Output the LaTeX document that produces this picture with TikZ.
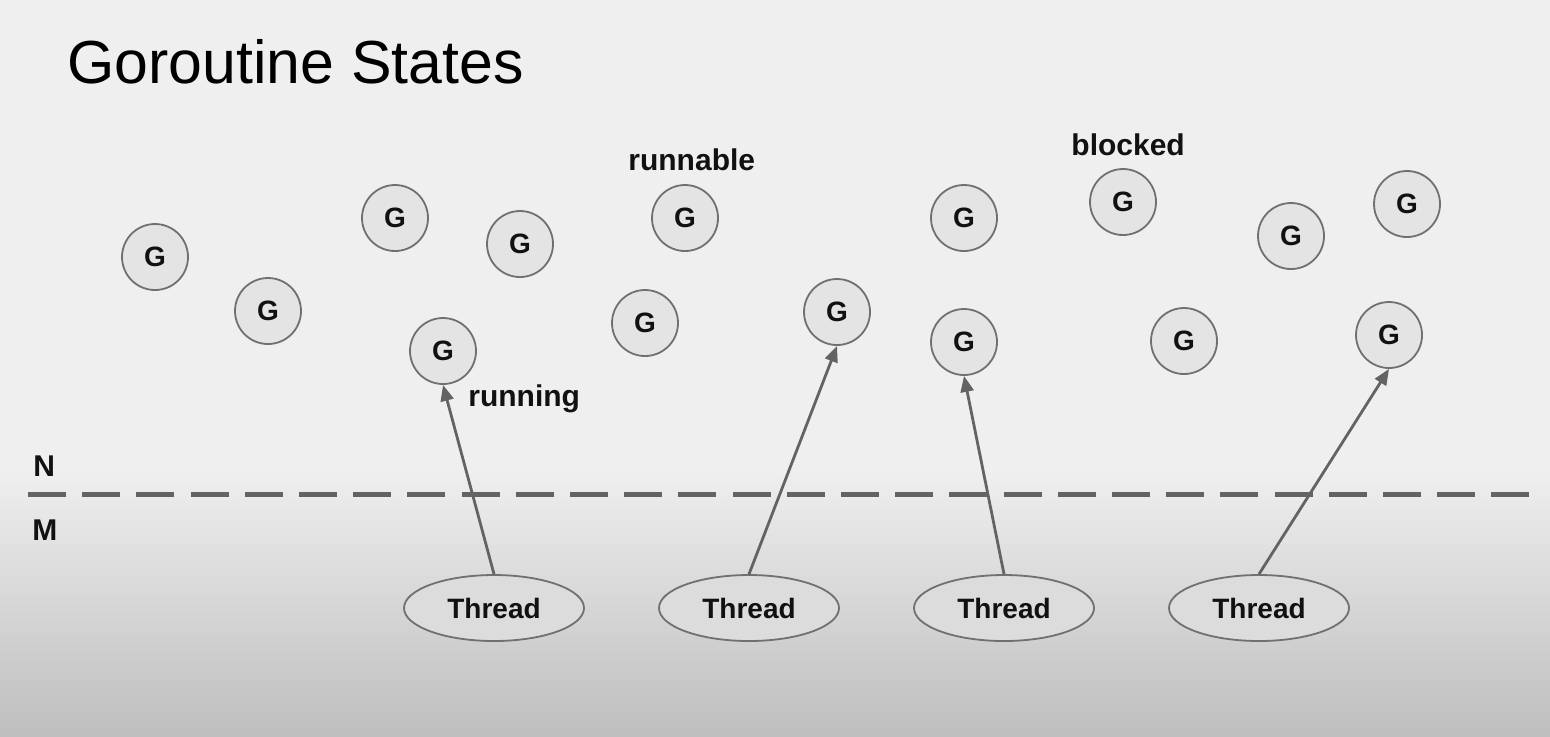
\documentclass[tikz,border=0pt]{standalone}
\usepackage{fontspec}
\setmainfont{Liberation Sans}
\usetikzlibrary{arrows.meta,positioning,shapes.geometric}
\definecolor{slide}{HTML}{EFEFEF}
\definecolor{floor}{HTML}{BEBEBE}
\definecolor{gfill}{HTML}{E4E4E4}
\definecolor{tfill}{HTML}{DCDCDC}
\definecolor{rim}{HTML}{707070}
\definecolor{ink}{HTML}{111111}
\definecolor{wire}{HTML}{636363}
\tikzset{
  gnode/.style={circle,draw=rim,fill=gfill,line width=0.9pt,minimum size=33pt,inner sep=0pt,font=\fontsize{14}{16}\selectfont\bfseries,text=ink},
  thread/.style={ellipse,draw=rim,fill=tfill,line width=0.9pt,minimum width=90pt,minimum height=33pt,inner sep=0pt,font=\fontsize{14}{16}\selectfont\bfseries,text=ink},
  arrow/.style={-{Triangle[length=8pt,width=6.5pt]},line width=1.4pt,color=wire},
  lbl/.style={font=\fontsize{15}{17}\selectfont\bfseries,text=ink,anchor=base west,inner sep=0pt},
  divider/.style={line width=2.5pt,color=wire,dash pattern=on 19pt off 8.1pt},
}
\begin{document}
\begin{tikzpicture}[x=0.5pt,y=-0.5pt]
    \useasboundingbox (0,0) rectangle (1550,736);
    % slide background
    \fill[slide] (0,0) rectangle (1550,470);
    \shade[top color=slide,bottom color=floor] (0,470) rectangle (1550,736);
    \node[anchor=base west,inner sep=0pt,font=\fontsize{30.4}{36}\selectfont,text=black] (title) at (67,83) {Goroutine States};
    % goroutines
    \foreach \n/\x/\y in {1/155/257,2/268/311,3/395/218,4/520/244,5/443/351,6/645/323,7/685/218,8/837/312,
                          9/964/218,10/964/342,11/1123/202,12/1184/341,13/1291/236,14/1407/204,15/1389/335}
      \node[gnode] (g\n) at (\x,\y) {G};
    \node[lbl] (runnable) at (628,170) {runnable};
    \node[lbl] (blocked) at (1071,155) {blocked};
    \node[lbl] (running) at (468,406) {running};
    % N / M split
    \draw[divider] (28,494) -- (1535,494);
    \node[lbl] (nlbl) at (33,476) {N};
    \node[lbl] (mlbl) at (32,540) {M};
    % threads
    \node[thread] (t1) at (494,608) {Thread};
    \node[thread] (t2) at (749,608) {Thread};
    \node[thread] (t3) at (1004,608) {Thread};
    \node[thread] (t4) at (1259,608) {Thread};
    \draw[arrow] (t1.north) -- (g5.south);
    \draw[arrow] (t2.north) -- (g8.south);
    \draw[arrow] (t3.north) -- (g10.south);
    \draw[arrow] (t4.north) -- (g15.south);
  \end{tikzpicture}
\end{document}
